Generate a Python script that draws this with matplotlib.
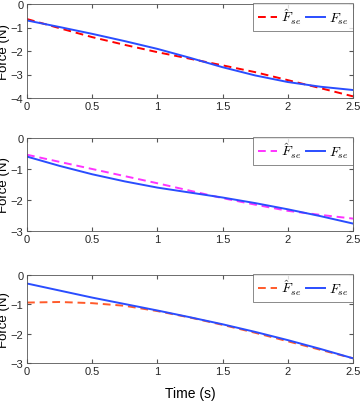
import numpy as np
import matplotlib.pyplot as plt

# Time samples (s)
t = [0, 0.25, 0.5, 0.75, 1.0, 1.25, 1.5, 1.75, 2.0, 2.25, 2.5]

# Panel 1
f_hat_1 = [-0.64, -1.03, -1.41, -1.74, -2.05, -2.33, -2.61, -2.90, -3.24, -3.58, -3.93]
f_se_1 = [-0.70, -0.98, -1.27, -1.58, -1.91, -2.29, -2.69, -3.04, -3.32, -3.52, -3.66]

# Panel 2
f_hat_2 = [-0.54, -0.77, -1.00, -1.23, -1.46, -1.70, -1.94, -2.15, -2.35, -2.48, -2.60]
f_se_2 = [-0.60, -0.90, -1.17, -1.40, -1.60, -1.76, -1.92, -2.10, -2.30, -2.52, -2.76]

# Panel 3
f_hat_3 = [-0.94, -0.92, -0.96, -1.05, -1.23, -1.45, -1.70, -1.97, -2.26, -2.55, -2.84]
f_se_3 = [-0.29, -0.53, -0.77, -0.99, -1.21, -1.44, -1.68, -1.94, -2.22, -2.52, -2.84]

hat_colors = ['#ff0000', '#ff33ff', '#ff5a2a']
blue = '#2a4dff'
ylims = [(-4, 0), (-3, 0), (-3, 0)]
# axes rectangles in figure pixels: (top, bottom)
rows = [(5, 99), (139, 232), (276, 364)]
left, right = 27, 353

W, H = 362, 402
plt.rcParams['font.family'] = 'Liberation Sans'
plt.rcParams['mathtext.fontset'] = 'cm'

fig = plt.figure(figsize=(W / 100, H / 100), dpi=100)
data = [(f_hat_1, f_se_1), (f_hat_2, f_se_2), (f_hat_3, f_se_3)]
edge = '#555555'

for i, ((fh, fs), (top, bot)) in enumerate(zip(data, rows)):
    ax = fig.add_axes([left / W, 1 - bot / H, (right - left) / W, (bot - top) / H])
    ax.plot(t, fh, '--', color=hat_colors[i], lw=1.4, dashes=(4, 2.5), label=r'$\hat{F}_{se}$')
    ax.plot(t, fs, '-', color=blue, lw=1.4, label=r'$F_{se}$')
    ax.set_xlim(0, 2.5)
    ax.set_ylim(*ylims[i])
    ax.set_xticks([0, 0.5, 1, 1.5, 2, 2.5])
    ax.set_xticklabels(['0', '0.5', '1', '1.5', '2', '2.5'])
    ax.set_yticks(np.arange(ylims[i][0], 1, 1))
    ax.tick_params(direction='in', length=3, labelsize=8, colors='#262626', pad=2.5,
                   top=True, right=True)
    ax.tick_params(color=edge)
    for s in ax.spines.values():
        s.set_color(edge)
        s.set_linewidth(0.6)
    ax.set_ylabel('Force (N)', fontsize=9.5)
    ax.yaxis.set_label_coords((10.5 - left) / (right - left), 0.5)
    if i == 2:
        ax.set_xlabel('Time (s)', fontsize=10, labelpad=7)
    leg = ax.legend(loc='upper right', bbox_to_anchor=(1, 1.01),
                    ncol=2, fontsize=10, frameon=True, fancybox=False,
                    handlelength=1.4, columnspacing=0.3, handletextpad=0.3,
                    borderpad=0.3, borderaxespad=0)
    leg.get_frame().set_edgecolor(edge)
    leg.get_frame().set_linewidth(0.6)

fig.savefig('out.png', dpi=100)
